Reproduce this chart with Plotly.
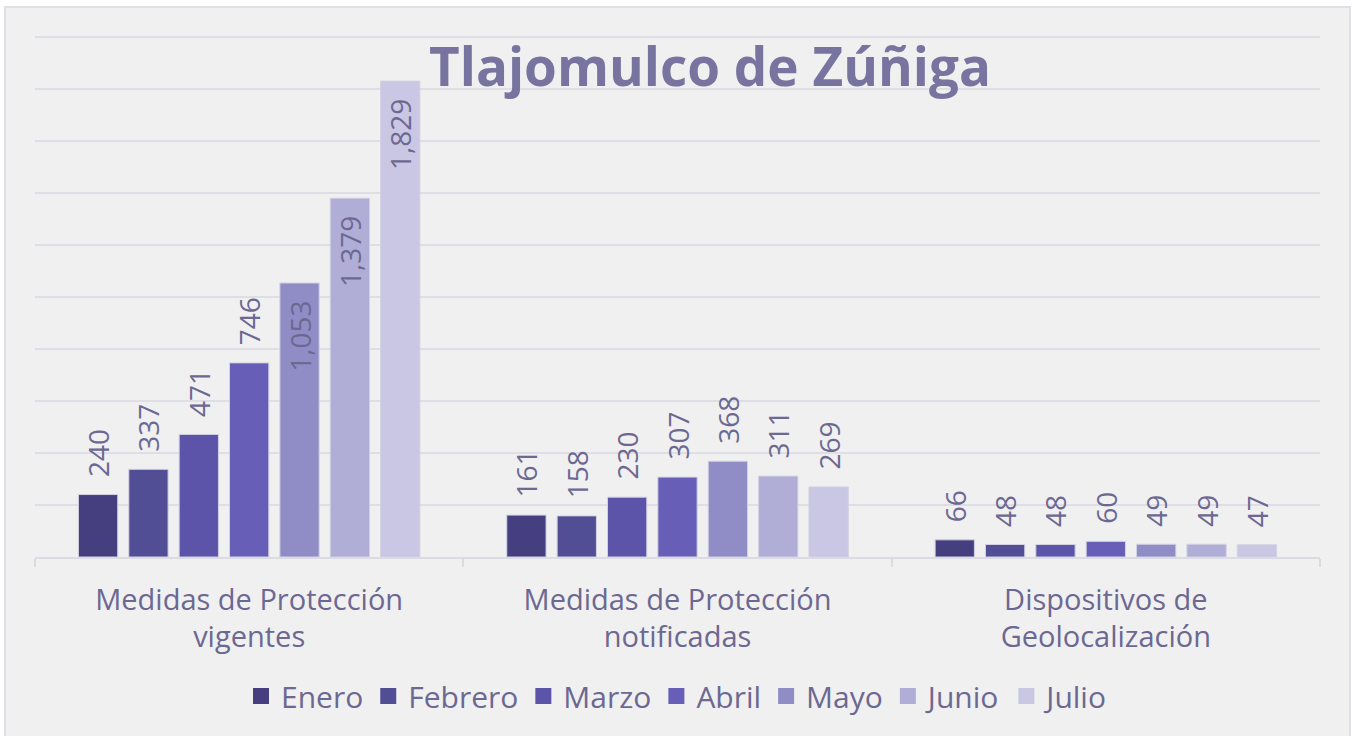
import plotly.graph_objects as go

categories = ["Medidas de Protección<br>vigentes", "Medidas de Protección<br>notificadas", "Dispositivos de<br>Geolocalización"]
months = ["Enero", "Febrero", "Marzo", "Abril", "Mayo", "Junio", "Julio"]
enero = [240, 161, 66]
febrero = [337, 158, 48]
marzo = [471, 230, 48]
abril = [746, 307, 60]
mayo = [1053, 368, 49]
junio = [1379, 311, 49]
julio = [1829, 269, 47]
series = [enero, febrero, marzo, abril, mayo, junio, julio]
colors = ["#463F7F", "#524E95", "#5C54A8", "#675FB7", "#908DC6", "#B0AED6", "#C9C7E3"]

FONT = "Open Sans"
TXT = "#6C6892"

W, H = 1352, 736
L, R, T, B = 35, 32, 34, 179
pw, ph = W - L - R, H - T - B

def px_x(x):
    return (x - L) / pw

def px_y(y):
    return (H - B - y) / ph

NB = "\u00a0"
fig = go.Figure()
for m, vals, c in zip(months, series, colors):
    pos = ["inside" if v > 900 else "outside" for v in vals]
    fig.add_trace(go.Bar(
        name=m, x=categories, y=vals, legendgroup=m, showlegend=False,
        marker=dict(color=c, line=dict(color="#D2D0E2", width=1)),
        texttemplate=NB * 2 + "%{y:,}" + NB * 2, textposition=pos, textangle=-90,
        insidetextanchor="end", constraintext="none",
        textfont=dict(family=FONT, size=28, color=TXT),
        cliponaxis=False,
    ))
# legend entries with larger square swatches
for m, c in zip(months, colors):
    fig.add_trace(go.Scatter(
        name=m, x=[categories[0]], y=[None], mode="markers", legendgroup=m,
        marker=dict(symbol="square", size=16, color=c, line=dict(width=0)),
        hoverinfo="skip",
    ))

fig.update_layout(
    width=W, height=H,
    margin=dict(l=L, r=R, t=T, b=B),
    paper_bgcolor="white", plot_bgcolor="rgba(0,0,0,0)",
    barmode="group", bargap=0.177, bargroupgap=0.22,
    font=dict(family=FONT, size=28, color=TXT),
    title=dict(text="<b>Tlajomulco de Zúñiga</b>", x=710 / W, xanchor="center",
               y=1 - 67 / H, yanchor="middle", yref="container",
               font=dict(family=FONT, size=53, color="#78749F")),
    legend=dict(orientation="h", x=0.5, xanchor="center", y=px_y(696), yanchor="middle",
                font=dict(family=FONT, size=30, color=TXT),
                traceorder="normal", bgcolor="rgba(0,0,0,0)"),
    showlegend=True,
    uniformtext=dict(mode=False),
)
fig.update_xaxes(showline=True, linecolor="#DCDBE3", linewidth=1.5,
                 ticks="outside", tickson="boundaries", ticklen=8, tickcolor="#DCDBE3",
                 tickwidth=1.5, showgrid=False,
                 tickfont=dict(family=FONT, size=29, color=TXT), ticklabelstandoff=16)
fig.update_yaxes(range=[0, 2010], tick0=0, dtick=200, showticklabels=False, showgrid=True,
                 gridcolor="#DFDEE6", gridwidth=1.5, zeroline=False, showline=False)

fig.add_shape(type="rect", xref="paper", yref="paper",
              x0=px_x(5), x1=px_x(1350), y0=px_y(745), y1=px_y(7),
              fillcolor="#F0F0F0", line=dict(color="#E0DFE5", width=2), layer="below")

fig.write_html("out.html", config={"displayModeBar": False},
               post_script="document.body.style.margin='0';")
